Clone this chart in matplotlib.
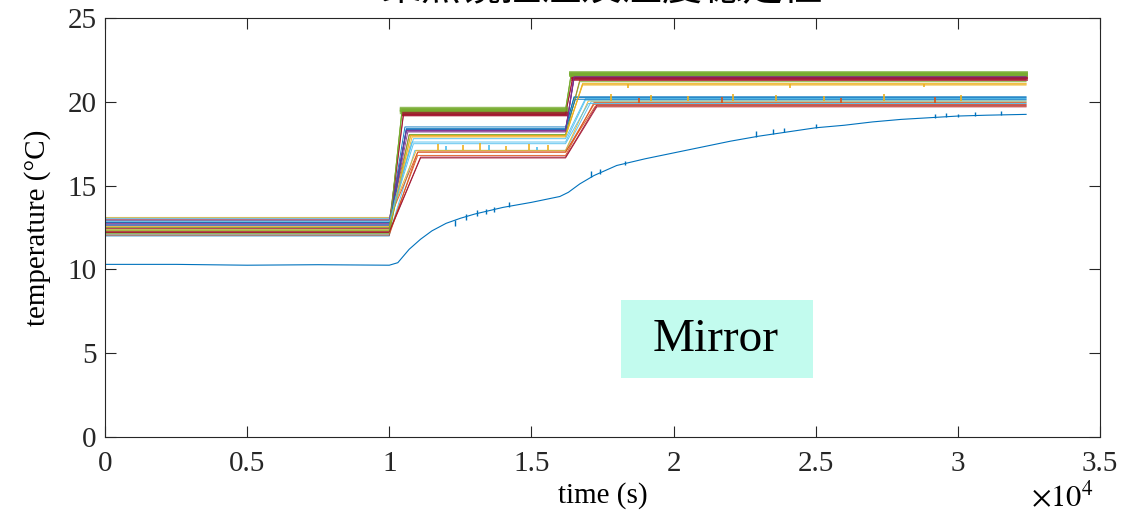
import matplotlib
matplotlib.use("Agg")
import matplotlib.pyplot as plt
from matplotlib.patches import Rectangle
from matplotlib.ticker import MultipleLocator, FixedLocator, FixedFormatter

plt.rcParams['font.family'] = ['Liberation Serif', 'DejaVu Serif']
plt.rcParams['mathtext.fontset'] = 'stix'
plt.rcParams['axes.prop_cycle'] = plt.cycler(color=[
    '#0072BD', '#D95319', '#EDB120', '#7E2F8E', '#77AC30', '#4DBEEE', '#A2142F'])

# mirror temperature (first, blue)
mirror_t = [0, 2500, 5000, 7500, 10000, 10300, 10700, 11100, 11500, 12000, 12500,
            13000, 14000, 15000, 16000, 16300, 16700, 17200, 18000, 19000, 20000,
            21000, 22000, 23000, 24000, 25000, 26000, 27000, 28000, 29000, 30000,
            31000, 32400]
mirror_T = [10.3, 10.3, 10.25, 10.28, 10.25, 10.4, 11.2, 11.8, 12.3, 12.75, 13.05,
            13.3, 13.7, 14.0, 14.35, 14.6, 15.1, 15.6, 16.2, 16.6, 16.95,
            17.3, 17.65, 17.95, 18.2, 18.45, 18.6, 18.8, 18.95, 19.05, 19.15,
            19.2, 19.25]
mirror_spike_t = [12300, 12700, 13100, 13400, 13700, 14200, 17100, 17400, 18300,
                  22900, 23500, 23900, 25000, 29200, 29600, 30000, 30600, 31500]
mirror_spike_lo = [12.6, 12.95, 13.2, 13.3, 13.45, 13.7, 15.5, 15.7, 16.25,
                   17.9, 18.1, 18.2, 18.45, 19.05, 19.1, 19.1, 19.17, 19.2]
mirror_spike_hi = [12.95, 13.3, 13.55, 13.6, 13.75, 14.0, 15.85, 16.0, 16.45,
                   18.25, 18.4, 18.45, 18.65, 19.3, 19.35, 19.3, 19.4, 19.45]

# other sensors: plateau levels and arrival times
level1 = [12.9, 12.4, 12.7, 12.3, 12.1, 12.8, 12.0, 12.2, 13.1, 12.6, 12.5, 12.9, 12.2, 12.8,
          13.0, 12.3, 12.75, 12.15, 13.05, 12.45, 12.65, 12.05, 12.55, 12.95, 12.35, 12.85, 12.25]
level2 = [18.0, 17.9, 18.3, 19.5, 17.1, 19.3, 18.4, 16.8, 17.1, 18.2, 19.4, 17.6, 16.65, 18.5,
          17.0, 18.0, 18.25, 18.05, 17.8, 19.25, 18.35, 17.0, 17.95, 18.3, 19.55, 17.5, 16.7]
level3 = [21.3, 21.05, 21.5, 21.7, 20.0, 21.45, 20.3, 19.95, 20.05, 21.4, 21.6, 20.1, 19.7, 20.25,
          19.85, 21.0, 21.45, 21.2, 20.2, 21.35, 20.15, 19.75, 21.1, 21.5, 21.65, 19.9, 19.8]
arrive1 = [10700, 10800, 10600, 10450, 10900, 10500, 10600, 11000, 10950, 10650, 10450, 10800,
           11100, 10550, 11000, 10750, 10600, 10700, 10850, 10500, 10600, 11000, 10750, 10600,
           10450, 10850, 11100]
arrive2 = [16700, 16800, 16500, 16400, 17100, 16450, 16500, 17200, 17000, 16500, 16400, 16900,
           17300, 16500, 17200, 16800, 16500, 16700, 16900, 16450, 16550, 17250, 16800, 16500,
           16400, 17000, 17300]
noisy = [3, 5, 10, 19, 24]
step1_t = 10000
step2_t = 16200
end_t = 32400

# occasional spikes on some sensors (series index, time, low, high)
spike_series = [8, 8, 8, 8, 8, 8, 4, 4, 4, 8, 8, 8, 8, 8, 8, 8, 8, 7, 7, 7, 7, 1, 1, 1]
spike_t = [11700, 12600, 13200, 14100, 14900, 15600, 12000, 13500, 15200,
           17800, 19200, 20500, 22100, 23600, 25300, 27400, 30100,
           18800, 21700, 25900, 29200, 18400, 24100, 28800]
spike_lo = [17.1, 17.1, 17.1, 17.1, 17.1, 17.1, 17.1, 17.1, 17.1,
            20.05, 20.05, 20.05, 20.05, 20.05, 20.05, 20.05, 20.05,
            19.95, 19.95, 19.95, 19.95, 21.05, 21.05, 21.05]
spike_hi = [17.5, 17.4, 17.55, 17.35, 17.5, 17.4, 17.35, 17.4, 17.3,
            20.45, 20.4, 20.35, 20.45, 20.4, 20.35, 20.45, 20.4,
            20.25, 20.3, 20.2, 20.3, 20.85, 20.8, 20.9]

xtick_vals = [0, 5000, 10000, 15000, 20000, 25000, 30000, 35000]
xtick_text = ['0', '0.5', '1', '1.5', '2', '2.5', '3', '3.5']

fig = plt.figure(figsize=(11.24, 5.12), dpi=100)
ax = fig.add_axes([105 / 1124, 75 / 512, 995 / 1124, 419 / 512])

ax.plot(mirror_t, mirror_T, lw=0.8)
ax.vlines(mirror_spike_t, mirror_spike_lo, mirror_spike_hi, color='#0072BD', lw=1.0)

lines = []
for i in range(len(level1)):
    tt = [0, step1_t, arrive1[i], step2_t, arrive2[i], end_t]
    yy = [level1[i], level1[i], level2[i], level2[i], level3[i], level3[i]]
    ln, = ax.plot(tt, yy, lw=0.7, alpha=0.9)
    lines.append(ln)
    if i in noisy:
        c = ln.get_color()
        ax.plot([arrive1[i], step2_t], [level2[i], level2[i]], color=c, lw=3.2, alpha=0.75)
        ax.plot([arrive2[i], end_t], [level3[i], level3[i]], color=c, lw=2.8, alpha=0.75)

for s, t, lo, hi in zip(spike_series, spike_t, spike_lo, spike_hi):
    ax.vlines(t, lo, hi, color=lines[s].get_color(), lw=1.2)

ax.set_xlim(0, 35000)
ax.set_ylim(0, 25)
ax.xaxis.set_major_locator(FixedLocator(xtick_vals))
ax.xaxis.set_major_formatter(FixedFormatter(xtick_text))
ax.yaxis.set_major_locator(MultipleLocator(5))
ax.tick_params(direction='in', length=8, width=0.8, top=True, right=True,
               labelsize=21, colors='#262626')
ax.tick_params(axis='x', pad=10)
ax.tick_params(axis='y', pad=6)
for sp in ax.spines.values():
    sp.set_linewidth(0.8)
    sp.set_color('#262626')

ax.set_xlabel('time (s)', fontsize=21, labelpad=4)
ax.set_ylabel('temperature (°C)', fontsize=21, labelpad=12)

# "Mirror" label box
fig.add_artist(Rectangle((621 / 1124, 134 / 512), 192 / 1124, 78 / 512,
                         transform=fig.transFigure, fc='#c2fbee', ec='none', zorder=5))
fig.text(716 / 1124, 172 / 512, 'Mirror', fontsize=34, ha='center', va='center', zorder=6)

fig.text(1062 / 1124, 14 / 512, r'$\times10^{4}$', fontsize=22, ha='center', va='center')
fig.text(602 / 1124, 1 + 12 / 512, '聚焦镜控温及温度稳定性', fontsize=29,
         family=['Noto Sans CJK SC', 'DejaVu Sans'], ha='center', va='center')

fig.savefig('out.png', dpi=100)
